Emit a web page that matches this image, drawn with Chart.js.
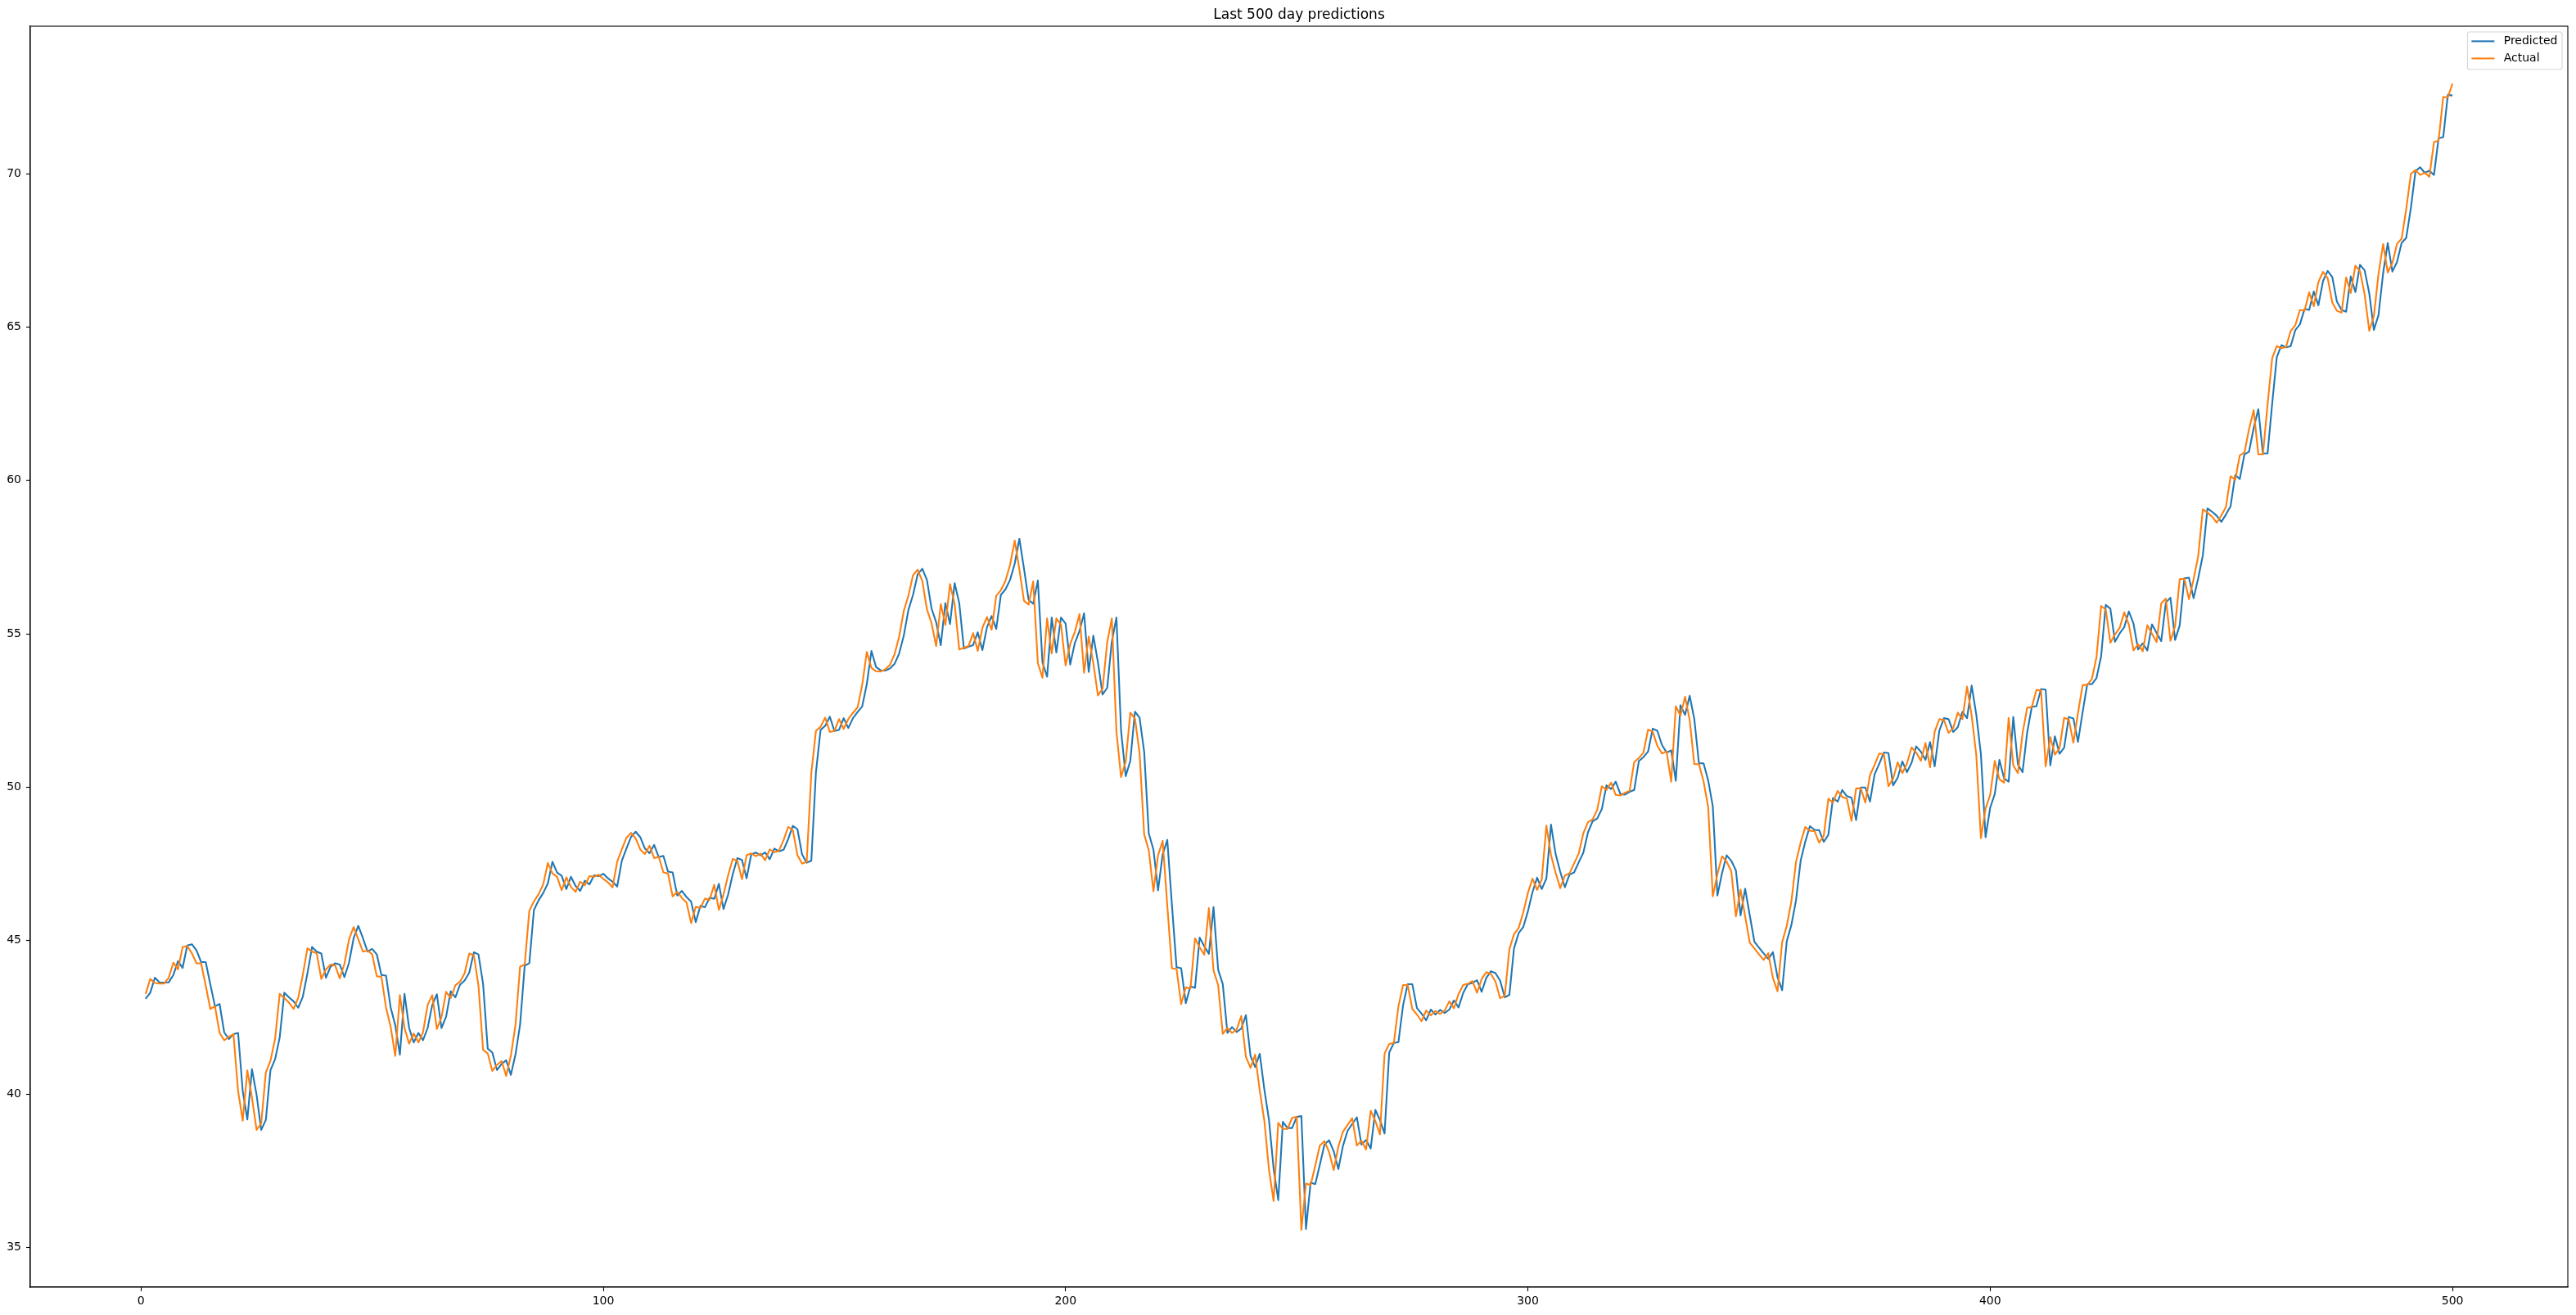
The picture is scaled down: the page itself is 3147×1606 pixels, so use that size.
<!DOCTYPE html>
<html>
<head>
<meta charset="utf-8">
<title>Last 500 day predictions</title>
<script src="https://cdn.jsdelivr.net/npm/chart.js@4.4.1/dist/chart.umd.min.js"></script>
<style>
  html, body { margin: 0; padding: 0; background: #fff; }
  #wrap { width: 3147px; height: 1606px; }
</style>
</head>
<body>
<div id="wrap"><canvas id="chart" width="3147" height="1606"></canvas></div>
<script>
// values, one per day (x = 1 .. 500)
var predicted = [
  43.10, 43.30, 43.79, 43.64, 43.63, 43.64, 43.88, 44.33, 44.11, 44.84,
  44.88, 44.68, 44.30, 44.30, 43.57, 42.86, 42.93, 42.01, 41.79, 41.95,
  41.99, 40.10, 39.17, 40.81, 39.97, 38.83, 39.15, 40.77, 41.13, 41.84,
  43.30, 43.15, 43.02, 42.81, 43.17, 43.93, 44.79, 44.64, 44.58, 43.79,
  44.15, 44.26, 44.22, 43.81, 44.28, 45.08, 45.48, 45.08, 44.64, 44.73,
  44.55, 43.88, 43.86, 42.82, 42.24, 41.28, 43.26, 42.15, 41.68, 41.99,
  41.75, 42.15, 42.90, 43.25, 42.15, 42.52, 43.35, 43.15, 43.56, 43.70,
  43.95, 44.62, 44.55, 43.58, 41.48, 41.35, 40.78, 40.98, 41.10, 40.62,
  41.28, 42.26, 44.18, 44.26, 46.00, 46.31, 46.55, 46.86, 47.57, 47.22,
  47.11, 46.68, 47.08, 46.78, 46.62, 46.95, 46.83, 47.13, 47.10, 47.18,
  47.03, 46.92, 46.76, 47.60, 48.00, 48.38, 48.55, 48.37, 48.00, 47.85,
  48.12, 47.72, 47.76, 47.25, 47.22, 46.47, 46.62, 46.42, 46.27, 45.60,
  46.13, 46.09, 46.40, 46.36, 46.85, 46.03, 46.50, 47.16, 47.69, 47.63,
  47.03, 47.81, 47.87, 47.78, 47.87, 47.65, 48.00, 47.91, 47.96, 48.31,
  48.74, 48.63, 47.81, 47.54, 47.60, 50.49, 51.87, 52.00, 52.30, 51.83,
  51.87, 52.25, 51.93, 52.25, 52.45, 52.63, 53.36, 54.44, 53.92, 53.81,
  53.80, 53.87, 54.02, 54.36, 54.94, 55.78, 56.27, 56.94, 57.12, 56.76,
  55.83, 55.38, 54.63, 56.00, 55.32, 56.65, 56.00, 54.52, 54.58, 54.63,
  55.05, 54.47, 55.22, 55.58, 55.16, 56.27, 56.45, 56.76, 57.29, 58.10,
  57.13, 56.11, 55.98, 56.74, 54.07, 53.60, 55.53, 54.39, 55.53, 55.33,
  54.00, 54.70, 55.09, 55.67, 53.76, 54.94, 54.07, 53.02, 53.24, 54.75,
  55.53, 51.84, 50.36, 50.86, 52.46, 52.27, 51.15, 48.49, 47.97, 46.64,
  47.81, 48.28, 46.17, 44.13, 44.10, 42.96, 43.51, 43.46, 45.10, 44.81,
  44.57, 46.09, 44.05, 43.58, 41.99, 42.18, 42.02, 42.13, 42.57, 41.24,
  40.88, 41.31, 40.14, 39.15, 37.56, 36.54, 39.09, 38.89, 38.89, 39.25,
  39.28, 35.60, 37.11, 37.06, 37.69, 38.35, 38.49, 38.13, 37.55, 38.31,
  38.80, 39.02, 39.24, 38.35, 38.50, 38.22, 39.48, 39.15, 38.71, 41.35,
  41.66, 41.69, 42.89, 43.58, 43.58, 42.80, 42.62, 42.40, 42.75, 42.59,
  42.74, 42.64, 42.75, 43.05, 42.82, 43.29, 43.58, 43.62, 43.71, 43.33,
  43.78, 44.00, 43.94, 43.69, 43.15, 43.23, 44.75, 45.24, 45.44, 45.95,
  46.58, 47.05, 46.68, 47.02, 48.78, 47.82, 47.24, 46.74, 47.15, 47.22,
  47.55, 47.87, 48.53, 48.89, 48.98, 49.29, 50.06, 49.94, 50.18, 49.78,
  49.76, 49.85, 49.91, 50.85, 50.98, 51.16, 51.91, 51.84, 51.38, 51.13,
  51.20, 50.21, 52.67, 52.36, 52.98, 52.22, 50.78, 50.78, 50.22, 49.38,
  46.47, 47.20, 47.78, 47.60, 47.29, 45.82, 46.69, 45.82, 44.96, 44.77,
  44.58, 44.40, 44.62, 43.81, 43.38, 44.98, 45.51, 46.31, 47.60, 48.22,
  48.73, 48.61, 48.60, 48.22, 48.45, 49.65, 49.53, 49.91, 49.71, 49.66,
  48.93, 49.99, 49.99, 49.53, 50.42, 50.76, 51.13, 51.11, 50.06, 50.31,
  50.84, 50.49, 50.80, 51.33, 51.16, 50.89, 51.47, 50.68, 51.84, 52.25,
  52.22, 51.80, 51.96, 52.46, 52.25, 53.31, 52.36, 51.07, 48.37, 49.33,
  49.78, 50.89, 50.29, 50.18, 52.29, 50.74, 50.49, 51.78, 52.62, 52.64,
  53.20, 53.18, 50.71, 51.66, 51.09, 51.29, 52.29, 52.24, 51.48, 52.45,
  53.36, 53.36, 53.56, 54.27, 55.94, 55.82, 54.74, 55.01, 55.22, 55.73,
  55.33, 54.49, 54.69, 54.46, 55.31, 55.03, 54.76, 56.02, 56.18, 54.80,
  55.28, 56.81, 56.83, 56.16, 56.81, 57.56, 59.09, 58.98, 58.85, 58.65,
  58.89, 59.16, 60.17, 60.05, 60.85, 60.94, 61.71, 62.32, 60.88, 60.88,
  62.50, 64.02, 64.41, 64.34, 64.38, 64.90, 65.09, 65.59, 65.56, 66.16,
  65.71, 66.50, 66.83, 66.63, 65.83, 65.56, 65.50, 66.65, 66.14, 67.03,
  66.85, 66.10, 64.91, 65.39, 66.76, 67.74, 66.81, 67.12, 67.74, 67.91,
  68.88, 70.08, 70.21, 70.03, 70.10, 69.96, 71.16, 71.19, 72.57, 72.55
];

var actual = [
  43.26, 43.75, 43.62, 43.60, 43.60, 43.79, 44.28, 44.06, 44.79, 44.82,
  44.59, 44.26, 44.26, 43.53, 42.77, 42.86, 41.99, 41.75, 41.86, 41.95,
  40.10, 39.13, 40.77, 39.88, 38.83, 39.04, 40.70, 41.08, 41.79, 43.26,
  43.13, 42.98, 42.77, 43.13, 43.88, 44.75, 44.64, 44.59, 43.75, 44.06,
  44.22, 44.19, 43.77, 44.24, 45.04, 45.44, 45.04, 44.64, 44.68, 44.55,
  43.84, 43.82, 42.82, 42.19, 41.24, 43.22, 42.15, 41.64, 41.97, 41.68,
  42.01, 42.90, 43.22, 42.12, 42.50, 43.33, 43.13, 43.54, 43.66, 43.93,
  44.58, 44.52, 43.53, 41.44, 41.32, 40.75, 40.95, 41.07, 40.59, 41.24,
  42.24, 44.15, 44.22, 45.97, 46.28, 46.51, 46.83, 47.53, 47.19, 47.08,
  46.64, 47.06, 46.75, 46.59, 46.92, 46.80, 47.10, 47.08, 47.15, 47.01,
  46.90, 46.73, 47.57, 47.97, 48.35, 48.51, 48.33, 47.97, 47.82, 48.09,
  47.69, 47.73, 47.22, 47.19, 46.44, 46.59, 46.39, 46.24, 45.57, 46.10,
  46.06, 46.37, 46.33, 46.82, 46.00, 46.50, 47.13, 47.66, 47.60, 47.00,
  47.78, 47.84, 47.75, 47.84, 47.62, 47.97, 47.88, 47.93, 48.28, 48.71,
  48.60, 47.78, 47.51, 47.57, 50.46, 51.84, 51.97, 52.27, 51.80, 51.84,
  52.22, 51.90, 52.22, 52.42, 52.60, 53.33, 54.41, 53.89, 53.78, 53.77,
  53.84, 53.99, 54.33, 54.91, 55.75, 56.24, 56.91, 57.09, 56.73, 55.80,
  55.35, 54.60, 55.97, 55.29, 56.62, 55.97, 54.49, 54.55, 54.60, 55.02,
  54.44, 55.19, 55.55, 55.13, 56.24, 56.42, 56.73, 57.26, 58.04, 57.10,
  56.08, 55.95, 56.71, 54.04, 53.57, 55.50, 54.36, 55.50, 55.30, 53.97,
  54.67, 55.06, 55.64, 53.73, 54.91, 54.04, 52.99, 53.21, 54.72, 55.50,
  51.81, 50.33, 50.83, 52.43, 52.24, 51.12, 48.46, 47.94, 46.61, 47.78,
  48.25, 46.14, 44.10, 44.07, 42.93, 43.48, 43.43, 45.07, 44.78, 44.54,
  46.06, 44.02, 43.55, 41.96, 42.15, 41.99, 42.10, 42.54, 41.21, 40.85,
  41.28, 40.11, 39.12, 37.53, 36.51, 39.06, 38.86, 38.86, 39.22, 39.25,
  35.57, 37.08, 37.03, 37.66, 38.32, 38.46, 38.10, 37.52, 38.28, 38.77,
  38.99, 39.21, 38.32, 38.47, 38.19, 39.45, 39.12, 38.68, 41.32, 41.63,
  41.66, 42.86, 43.55, 43.55, 42.77, 42.59, 42.37, 42.72, 42.56, 42.71,
  42.61, 42.72, 43.02, 42.79, 43.26, 43.55, 43.59, 43.68, 43.30, 43.75,
  43.97, 43.91, 43.66, 43.12, 43.20, 44.72, 45.21, 45.41, 45.92, 46.55,
  47.02, 46.65, 46.99, 48.75, 47.79, 47.21, 46.71, 47.12, 47.19, 47.52,
  47.84, 48.50, 48.86, 48.95, 49.26, 50.03, 49.91, 50.15, 49.75, 49.73,
  49.82, 49.88, 50.82, 50.95, 51.13, 51.88, 51.81, 51.35, 51.10, 51.17,
  50.18, 52.64, 52.33, 52.95, 52.19, 50.75, 50.75, 50.19, 49.35, 46.44,
  47.17, 47.75, 47.57, 47.26, 45.79, 46.66, 45.79, 44.93, 44.74, 44.55,
  44.37, 44.59, 43.78, 43.35, 44.95, 45.48, 46.28, 47.57, 48.19, 48.70,
  48.58, 48.57, 48.19, 48.42, 49.62, 49.50, 49.88, 49.68, 49.63, 48.90,
  49.96, 49.96, 49.50, 50.39, 50.73, 51.10, 51.08, 50.03, 50.28, 50.81,
  50.46, 50.77, 51.30, 51.13, 50.86, 51.44, 50.65, 51.81, 52.22, 52.19,
  51.77, 51.93, 52.43, 52.22, 53.28, 52.33, 51.04, 48.34, 49.30, 49.75,
  50.86, 50.26, 50.15, 52.26, 50.71, 50.46, 51.75, 52.59, 52.61, 53.17,
  53.15, 50.68, 51.63, 51.06, 51.26, 52.26, 52.21, 51.45, 52.42, 53.33,
  53.33, 53.53, 54.24, 55.91, 55.79, 54.71, 54.98, 55.19, 55.70, 55.30,
  54.46, 54.66, 54.43, 55.28, 55.00, 54.73, 55.99, 56.15, 54.77, 55.25,
  56.78, 56.80, 56.13, 56.78, 57.53, 59.06, 58.95, 58.82, 58.62, 58.86,
  59.13, 60.14, 60.02, 60.82, 60.91, 61.68, 62.29, 60.85, 60.85, 62.47,
  63.99, 64.38, 64.31, 64.35, 64.87, 65.06, 65.56, 65.53, 66.13, 65.68,
  66.47, 66.80, 66.60, 65.80, 65.53, 65.47, 66.62, 66.11, 67.00, 66.82,
  66.07, 64.88, 65.36, 66.73, 67.71, 66.78, 67.09, 67.71, 67.88, 68.85,
  69.99, 70.12, 69.96, 70.03, 69.90, 71.03, 71.08, 72.50, 72.49, 72.94
];

var xTicks = [0, 100, 200, 300, 400, 500];
var yTicks = [35, 40, 45, 50, 55, 60, 65, 70];
var seriesNames = ['Predicted', 'Actual'];
var seriesColors = ['#1f77b4', '#ff7f0e'];
var chartTitle = 'Last 500 day predictions';

var FONT = '"DejaVu Sans", "Liberation Sans", sans-serif';

// day index for each value, starting at 1
var days = actual.map(function(v, i) { return i + 1; });

function toPoints(values) {
    return values.map(function(v, i) { return { x: days[i], y: v }; });
}

// axis limits like matplotlib's default 5% margins
var allValues = predicted.concat(actual);
var yLo = Math.min.apply(null, allValues);
var yHi = Math.max.apply(null, allValues);
var yPad = (yHi - yLo) * 0.05;
var xPad = (days[days.length - 1] - days[0]) * 0.05;

// top/right spines, title and the boxed legend inside the axes
var decorations = {
    id: 'decorations',
    afterDraw: function(chart) {
        var ctx = chart.ctx;
        var area = chart.chartArea;
        ctx.save();

        ctx.strokeStyle = '#000';
        ctx.lineWidth = 1.1;
        ctx.strokeRect(area.left, area.top, area.right - area.left, area.bottom - area.top);

        ctx.fillStyle = '#000';
        ctx.font = '17px ' + FONT;
        ctx.textAlign = 'center';
        ctx.textBaseline = 'alphabetic';
        ctx.fillText(chartTitle, (area.left + area.right) / 2, area.top - 9);

        ctx.font = '14px ' + FONT;
        var textW = 0;
        seriesNames.forEach(function(n) { textW = Math.max(textW, ctx.measureText(n).width); });
        var boxW = 44.3 + textW + 5.6;
        var boxH = 45.7;
        var right = area.right - 7;
        var top = area.top + 7;
        var left = right - boxW;

        ctx.beginPath();
        if (ctx.roundRect) {
            ctx.roundRect(left, top, boxW, boxH, 3);
        } else {
            ctx.rect(left, top, boxW, boxH);
        }
        ctx.fillStyle = 'rgba(255,255,255,0.8)';
        ctx.fill();
        ctx.strokeStyle = '#d6d6d6';
        ctx.lineWidth = 1.1;
        ctx.stroke();

        ctx.textAlign = 'left';
        ctx.textBaseline = 'middle';
        seriesNames.forEach(function(n, i) {
            var y = top + 11.4 + i * 21;
            ctx.strokeStyle = seriesColors[i];
            ctx.lineWidth = 2.08;
            ctx.beginPath();
            ctx.moveTo(left + 5, y);
            ctx.lineTo(left + 33, y);
            ctx.stroke();
            ctx.fillStyle = '#000';
            ctx.fillText(n, left + 44.3, y);
        });
        ctx.restore();
    }
};

var ctx = document.getElementById('chart').getContext('2d');
var chart = new Chart(ctx, {
    type: 'line',
    data: {
        datasets: [
            {
                label: seriesNames[0],
                data: toPoints(predicted),
                borderColor: seriesColors[0],
                backgroundColor: seriesColors[0],
                borderWidth: 2.08,
                borderJoinStyle: 'round',
                pointRadius: 0,
                fill: false,
                order: 1
            },
            {
                label: seriesNames[1],
                data: toPoints(actual),
                borderColor: seriesColors[1],
                backgroundColor: seriesColors[1],
                borderWidth: 2.08,
                borderJoinStyle: 'round',
                pointRadius: 0,
                fill: false,
                order: 0
            }
        ]
    },
    options: {
        responsive: false,
        animation: false,
        devicePixelRatio: 1,
        layout: { padding: { top: 32, right: 10, bottom: 0, left: 0 } },
        plugins: {
            legend: { display: false },
            title: { display: false },
            tooltip: { enabled: false }
        },
        elements: { line: { tension: 0 } },
        scales: {
            x: {
                type: 'linear',
                min: days[0] - xPad,
                max: days[days.length - 1] + xPad,
                afterBuildTicks: function(scale) {
                    scale.ticks = xTicks.map(function(v) { return { value: v }; });
                },
                afterFit: function(scale) { scale.height = 34; },
                ticks: {
                    color: '#000',
                    font: { family: FONT, size: 14 },
                    padding: 4,
                    maxRotation: 0,
                    autoSkip: false,
                    callback: function(v) { return String(v); }
                },
                grid: { drawOnChartArea: false, color: '#000', tickLength: 5, tickWidth: 1.1 },
                border: { color: '#000', width: 1.1 }
            },
            y: {
                type: 'linear',
                min: yLo - yPad,
                max: yHi + yPad,
                afterBuildTicks: function(scale) {
                    scale.ticks = yTicks.map(function(v) { return { value: v }; });
                },
                afterFit: function(scale) { scale.width = 37; },
                ticks: {
                    color: '#000',
                    font: { family: FONT, size: 14 },
                    padding: 6,
                    autoSkip: false,
                    callback: function(v) { return String(v); }
                },
                grid: { drawOnChartArea: false, color: '#000', tickLength: 5, tickWidth: 1.1 },
                border: { color: '#000', width: 1.1 }
            }
        }
    },
    plugins: [decorations]
});
</script>
</body>
</html>
